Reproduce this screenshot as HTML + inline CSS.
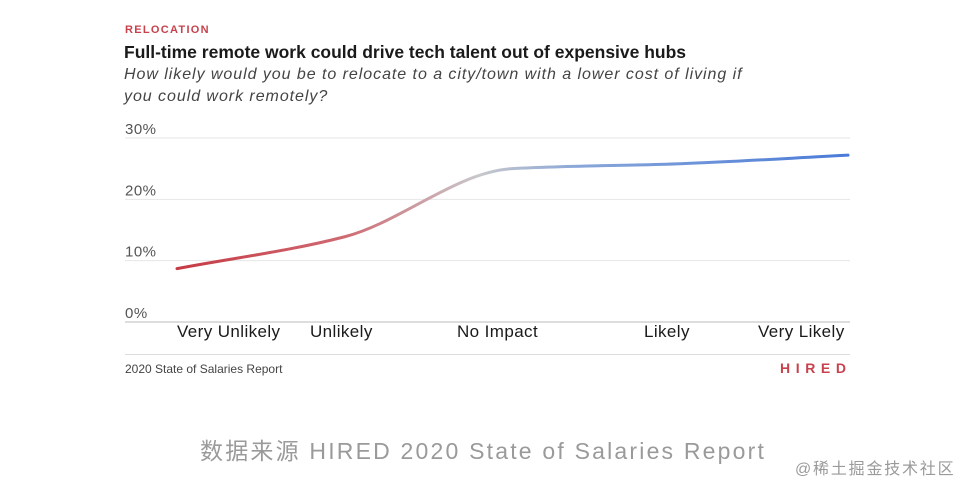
<!DOCTYPE html>
<html><head><meta charset="utf-8"><style>
html,body{margin:0;padding:0;background:#fff;}
body{width:972px;height:490px;position:relative;overflow:hidden;font-family:"Liberation Sans","Noto Sans CJK SC",sans-serif;}
.t{position:absolute;white-space:nowrap;}
.xl{position:absolute;white-space:nowrap;top:322px;font-size:17px;letter-spacing:0.4px;color:#1a1a1a;}
</style></head><body>
<div class="t" style="left:125px;top:24px;font-size:11px;font-weight:bold;color:#c7424c;letter-spacing:1.3px;">RELOCATION</div>
<div class="t" style="left:124px;top:42px;font-size:17.5px;font-weight:bold;color:#1a1a1a;">Full-time remote work could drive tech talent out of expensive hubs</div>
<div class="t" style="left:124px;top:64px;font-size:16px;letter-spacing:0.95px;font-style:italic;color:#444;line-height:22px;">How likely would you be to relocate to a city/town with a lower cost of living if<br>you could work remotely?</div>
<svg id="chart" width="972" height="490" style="position:absolute;left:0;top:0;">
<defs><linearGradient id="g" x1="177" x2="848" y1="0" y2="0" gradientUnits="userSpaceOnUse">
<stop offset="0" stop-color="#c63a45"/><stop offset="0.25" stop-color="#cf6a72"/><stop offset="0.45" stop-color="#c8c8cc"/><stop offset="0.6" stop-color="#88a6d9"/><stop offset="1" stop-color="#4a7bd8"/></linearGradient></defs>
</svg>
<div class="xl" style="left:177px;">Very Unlikely</div>
<div class="xl" style="left:310px;">Unlikely</div>
<div class="xl" style="left:457px;">No Impact</div>
<div class="xl" style="left:644px;">Likely</div>
<div class="xl" style="left:758px;">Very Likely</div>
<div style="position:absolute;left:125px;top:354px;width:725px;height:1px;background:#ddd;"></div>
<div class="t" style="left:125px;top:362px;font-size:12px;color:#444;">2020 State of Salaries Report</div>
<div class="t" style="left:780px;top:360px;font-size:14px;font-weight:bold;color:#c7424c;letter-spacing:5.6px;">HIRED</div>
<div class="t" style="left:200px;top:432px;font-size:23px;color:#9a9a9a;letter-spacing:2.2px;">数据来源 HIRED 2020 State of Salaries Report</div>
<div class="t" style="left:795px;top:455px;font-size:16px;color:#9a9a9a;letter-spacing:1.8px;">@稀土掘金技术社区</div>
<script>
const categories=["Very Unlikely","Unlikely","No Impact","Likely","Very Likely"];
const values=[8.7,13.9,25.0,25.8,27.2];
const yTicks=[0,10,20,30];
const tickLabels=["0%","10%","20%","30%"];
const svg=document.getElementById('chart');
const NS="http://www.w3.org/2000/svg";
const x0=177,x1=848,yBase=322,yTop=138;
const xs=i=>x0+i*(x1-x0)/(categories.length-1);
const ys=v=>yBase-(v/30)*(yBase-yTop);
yTicks.forEach((t,i)=>{
 const l=document.createElementNS(NS,'line');
 l.setAttribute('x1',125);l.setAttribute('x2',850);l.setAttribute('y1',ys(t));l.setAttribute('y2',ys(t));
 l.setAttribute('stroke',t===0?'#bbb':'#e6e6e6');l.setAttribute('stroke-width',1);
 
 
 svg.appendChild(l);
 const tx=document.createElementNS(NS,'text');
 tx.setAttribute('x',125);tx.setAttribute('y',ys(t)-4);
 tx.setAttribute('font-size','15');tx.setAttribute('letter-spacing','0.5');tx.setAttribute('fill','#555');tx.setAttribute('font-family','Liberation Sans, sans-serif');
 tx.textContent=tickLabels[i];
 
 
 svg.appendChild(tx);
});
const P=values.map((v,i)=>[xs(i),ys(v)]);
const n=P.length,d=[],m=[];
for(let i=0;i<n-1;i++)d.push((P[i+1][1]-P[i][1])/(P[i+1][0]-P[i][0]));
m[0]=d[0];m[n-1]=d[n-2];
for(let i=1;i<n-1;i++)m[i]=d[i-1]*d[i]<=0?0:2/(1/d[i-1]+1/d[i]);
let path=`M${P[0][0]},${P[0][1]}`;
for(let i=0;i<n-1;i++){const h=(P[i+1][0]-P[i][0])/3;
 path+=` C${P[i][0]+h},${P[i][1]+m[i]*h} ${P[i+1][0]-h},${P[i+1][1]-m[i+1]*h} ${P[i+1][0]},${P[i+1][1]}`;}
const line=document.createElementNS(NS,'path');
line.setAttribute('d',path);line.setAttribute('fill','none');line.setAttribute('stroke','url(#g)');
line.setAttribute('stroke-width',3);line.setAttribute('stroke-linecap','round');


svg.appendChild(line);
</script>
</body></html>
